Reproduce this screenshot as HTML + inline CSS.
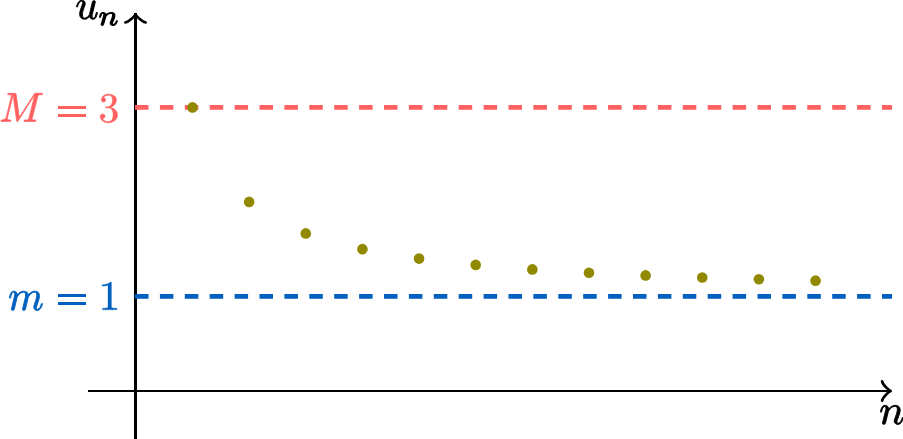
<!DOCTYPE html>
<html><head><meta charset="utf-8">
<style>
html,body{margin:0;padding:0;background:#fff;}
body{width:903px;height:439px;overflow:hidden;position:relative;}
svg{position:absolute;left:0;top:0;}
</style></head>
<body>
<svg width="903" height="439" viewBox="0 0 903 439">
<rect x="88" y="390" width="800" height="2" fill="#000"/>
<rect x="134" y="13" width="3" height="426" fill="#000"/>
<path fill="none" stroke="#000" stroke-width="2.60" stroke-linecap="round" stroke-linejoin="round" d="M882.08,381.20 C882.65,384.88 888.98,390.39 890.70,391.00 C888.98,391.61 882.65,397.12 882.08,400.80"/>
<path fill="none" stroke="#000" stroke-width="2.60" stroke-linecap="round" stroke-linejoin="round" d="M125.30,22.45 C129.12,21.90 134.86,15.85 135.50,14.20 C136.14,15.85 141.88,21.90 145.70,22.45"/>
<line x1="135.0" y1="107.35" x2="892" y2="107.35" stroke="#ff6060" stroke-width="4.8" stroke-dasharray="13.5 11.4"/>
<line x1="135.0" y1="296.35" x2="892" y2="296.35" stroke="#0060bf" stroke-width="4.8" stroke-dasharray="13.5 11.4"/>
<g fill="#918900"><circle cx="192.50" cy="107.40" r="5.3"/><circle cx="249.14" cy="201.90" r="5.3"/><circle cx="305.78" cy="233.40" r="5.3"/><circle cx="362.42" cy="249.15" r="5.3"/><circle cx="419.06" cy="258.60" r="5.3"/><circle cx="475.70" cy="264.90" r="5.3"/><circle cx="532.34" cy="269.40" r="5.3"/><circle cx="588.98" cy="272.77" r="5.3"/><circle cx="645.62" cy="275.40" r="5.3"/><circle cx="702.26" cy="277.50" r="5.3"/><circle cx="758.90" cy="279.22" r="5.3"/><circle cx="815.54" cy="280.65" r="5.3"/></g>
<rect x="58" y="106" width="28" height="3" fill="#ff6060"/>
<rect x="58" y="114" width="28" height="3" fill="#ff6060"/>
<rect x="58" y="294" width="28" height="3" fill="#0060bf"/>
<rect x="58" y="302" width="28" height="3" fill="#0060bf"/>
<path transform="translate(75.363 18.777) scale(0.01976 -0.02058)" fill="#000" stroke="#000" stroke-width="0.90" stroke-linejoin="round" vector-effect="non-scaling-stroke" d="M217 223Q217 290 235.0 360.5Q253 431 285.5 517.5Q318 604 342 668Q369 743 369 791Q369 852 324 852Q243 852 190.5 768.5Q138 685 113 582Q109 569 96 569H72Q55 569 55 588V594Q88 716 156.0 810.5Q224 905 328 905Q401 905 451.5 857.0Q502 809 502 735Q502 697 485 655Q476 630 444.0 546.0Q412 462 395.0 407.0Q378 352 367.0 299.0Q356 246 356 193Q356 125 385.0 78.0Q414 31 479 31Q610 31 709 193Q711 201 712.5 208.5Q714 216 715 223L862 817Q869 844 894.0 863.5Q919 883 948 883Q973 883 991.5 867.0Q1010 851 1010 825Q1010 813 1008 809L860 219Q846 158 846 119Q846 31 905 31Q971 31 1003.5 112.5Q1036 194 1059 301Q1063 313 1075 313H1100Q1108 313 1113.0 306.0Q1118 299 1118 293Q1096 205 1075.5 142.0Q1055 79 1011.0 28.0Q967 -23 901 -23Q836 -23 784.5 12.5Q733 48 715 109Q668 49 606.0 13.0Q544 -23 475 -23Q357 -23 287.0 41.5Q217 106 217 223Z"/>
<path transform="translate(98.704 25.066) scale(0.01583 -0.01386)" fill="#000" stroke="#000" stroke-width="1.15" stroke-linejoin="round" vector-effect="non-scaling-stroke" d="M158 35Q158 47 160 53L313 664Q328 721 328 764Q328 852 268 852Q204 852 173.0 775.5Q142 699 113 582Q113 576 107.0 572.5Q101 569 96 569H72Q65 569 60.0 576.5Q55 584 55 590Q77 679 97.5 741.0Q118 803 161.5 854.0Q205 905 270 905Q347 905 406.0 856.5Q465 808 465 733Q526 813 608.0 859.0Q690 905 782 905Q855 905 908.0 880.0Q961 855 990.5 804.5Q1020 754 1020 684Q1020 600 982.5 481.0Q945 362 889 215Q860 148 860 92Q860 31 907 31Q987 31 1040.5 117.0Q1094 203 1116 301Q1120 313 1133 313H1157Q1165 313 1170.5 308.0Q1176 303 1176 295Q1176 293 1174 289Q1146 173 1076.5 75.0Q1007 -23 903 -23Q831 -23 780.0 26.5Q729 76 729 147Q729 185 745 227Q771 294 804.5 387.0Q838 480 859.5 565.0Q881 650 881 715Q881 772 857.5 812.0Q834 852 778 852Q703 852 640.0 819.0Q577 786 530.0 731.5Q483 677 444 602L305 45Q298 17 273.5 -3.0Q249 -23 219 -23Q194 -23 176.0 -7.0Q158 9 158 35Z"/>
<path transform="translate(-0.752 121.450) scale(0.02026 -0.02009)" fill="#ff6060" stroke="#ff6060" stroke-width="0.70" stroke-linejoin="round" vector-effect="non-scaling-stroke" d="M104 0Q84 0 84 27Q85 32 88.0 44.0Q91 56 96.0 64.0Q101 72 111 72Q306 72 338 197L604 1266Q608 1286 608 1294Q608 1316 584 1319Q545 1327 436 1327Q416 1327 416 1354Q417 1359 420.0 1371.5Q423 1384 428.5 1391.5Q434 1399 442 1399H803Q826 1399 829 1376L989 203L1735 1376Q1749 1399 1774 1399H2122Q2142 1399 2142 1372Q2141 1367 2138.0 1354.5Q2135 1342 2129.5 1334.5Q2124 1327 2116 1327Q1991 1327 1942 1313Q1915 1304 1903 1257L1622 133Q1618 113 1618 104Q1618 96 1620.5 90.5Q1623 85 1627.5 83.5Q1632 82 1642 80Q1681 72 1790 72Q1810 72 1810 45Q1803 16 1799.0 8.0Q1795 0 1776 0H1241Q1221 0 1221 27Q1222 32 1225.0 44.5Q1228 57 1233.5 64.5Q1239 72 1247 72Q1372 72 1421 86Q1448 95 1460 141L1755 1327L928 23Q916 0 887 0Q861 0 858 23L684 1311L403 188Q401 183 400.0 175.5Q399 168 397 158Q397 105 443.5 88.5Q490 72 557 72Q578 72 578 45Q571 18 566.5 9.0Q562 0 543 0Z"/>
<path transform="translate(98.440 121.980) scale(0.02047 -0.02044)" fill="#ff6060" stroke="#ff6060" stroke-width="0.40" stroke-linejoin="round" vector-effect="non-scaling-stroke" d="M195 158Q243 88 324.0 54.0Q405 20 498 20Q617 20 667.0 121.5Q717 223 717 352Q717 410 706.5 468.0Q696 526 671.0 576.0Q646 626 602.5 656.0Q559 686 496 686H360Q342 686 342 705V723Q342 739 360 739L473 748Q545 748 592.5 802.0Q640 856 662.0 933.5Q684 1011 684 1081Q684 1179 638.0 1242.0Q592 1305 498 1305Q420 1305 349.0 1275.5Q278 1246 236 1186Q240 1187 243.0 1187.5Q246 1188 250 1188Q296 1188 327.0 1156.0Q358 1124 358 1079Q358 1035 327.0 1003.0Q296 971 250 971Q205 971 173.0 1003.0Q141 1035 141 1079Q141 1167 194.0 1232.0Q247 1297 330.5 1330.5Q414 1364 498 1364Q560 1364 629.0 1345.5Q698 1327 754.0 1292.5Q810 1258 845.5 1204.0Q881 1150 881 1081Q881 995 842.5 922.0Q804 849 737.0 796.0Q670 743 590 717Q679 700 759.0 650.0Q839 600 887.5 522.0Q936 444 936 354Q936 241 874.0 149.5Q812 58 711.0 6.5Q610 -45 498 -45Q402 -45 305.5 -8.5Q209 28 147.5 101.0Q86 174 86 276Q86 327 120.0 361.0Q154 395 205 395Q238 395 265.5 379.5Q293 364 308.5 336.0Q324 308 324 276Q324 226 289.0 192.0Q254 158 205 158Z"/>
<path transform="translate(8.321 310.020) scale(0.01962 -0.02085)" fill="#0060bf" stroke="#0060bf" stroke-width="0.90" stroke-linejoin="round" vector-effect="non-scaling-stroke" d="M158 35Q158 47 160 53L313 664Q328 721 328 764Q328 852 268 852Q204 852 173.0 775.5Q142 699 113 582Q113 576 107.0 572.5Q101 569 96 569H72Q65 569 60.0 576.5Q55 584 55 590Q77 679 97.5 741.0Q118 803 161.5 854.0Q205 905 270 905Q347 905 406.0 856.5Q465 808 465 733Q526 813 608.0 859.0Q690 905 782 905Q879 905 949.5 855.5Q1020 806 1020 715Q1083 804 1167.5 854.5Q1252 905 1352 905Q1458 905 1522.5 847.5Q1587 790 1587 684Q1587 600 1549.5 481.0Q1512 362 1456 215Q1427 144 1427 92Q1427 31 1475 31Q1555 31 1608.0 117.0Q1661 203 1683 301Q1689 313 1700 313H1724Q1732 313 1737.5 307.5Q1743 302 1743 295Q1743 293 1741 289Q1713 173 1643.5 75.0Q1574 -23 1470 -23Q1398 -23 1347.0 26.5Q1296 76 1296 147Q1296 183 1313 227Q1371 381 1409.5 502.0Q1448 623 1448 715Q1448 772 1425.0 812.0Q1402 852 1348 852Q1236 852 1154.0 783.5Q1072 715 1012 602Q1008 582 1006 571L874 45Q867 17 842.5 -3.0Q818 -23 788 -23Q764 -23 745.5 -7.0Q727 9 727 35Q727 47 729 53L860 575Q881 659 881 715Q881 772 857.5 812.0Q834 852 778 852Q703 852 640.0 819.0Q577 786 530.0 731.5Q483 677 444 602L305 45Q298 17 273.5 -3.0Q249 -23 219 -23Q194 -23 176.0 -7.0Q158 9 158 35Z"/>
<path transform="translate(98.435 309.750) scale(0.02143 -0.02031)" fill="#0060bf" stroke="#0060bf" stroke-width="0.30" stroke-linejoin="round" vector-effect="non-scaling-stroke" d="M190 0V72Q446 72 446 137V1212Q340 1161 178 1161V1233Q429 1233 557 1364H586Q593 1364 599.5 1358.5Q606 1353 606 1346V137Q606 72 862 72V0Z"/>
<path transform="translate(879.218 423.977) scale(0.02058 -0.02058)" fill="#000" stroke="#000" stroke-width="0.90" stroke-linejoin="round" vector-effect="non-scaling-stroke" d="M158 35Q158 47 160 53L313 664Q328 721 328 764Q328 852 268 852Q204 852 173.0 775.5Q142 699 113 582Q113 576 107.0 572.5Q101 569 96 569H72Q65 569 60.0 576.5Q55 584 55 590Q77 679 97.5 741.0Q118 803 161.5 854.0Q205 905 270 905Q347 905 406.0 856.5Q465 808 465 733Q526 813 608.0 859.0Q690 905 782 905Q855 905 908.0 880.0Q961 855 990.5 804.5Q1020 754 1020 684Q1020 600 982.5 481.0Q945 362 889 215Q860 148 860 92Q860 31 907 31Q987 31 1040.5 117.0Q1094 203 1116 301Q1120 313 1133 313H1157Q1165 313 1170.5 308.0Q1176 303 1176 295Q1176 293 1174 289Q1146 173 1076.5 75.0Q1007 -23 903 -23Q831 -23 780.0 26.5Q729 76 729 147Q729 185 745 227Q771 294 804.5 387.0Q838 480 859.5 565.0Q881 650 881 715Q881 772 857.5 812.0Q834 852 778 852Q703 852 640.0 819.0Q577 786 530.0 731.5Q483 677 444 602L305 45Q298 17 273.5 -3.0Q249 -23 219 -23Q194 -23 176.0 -7.0Q158 9 158 35Z"/>
</svg>
</body></html>
